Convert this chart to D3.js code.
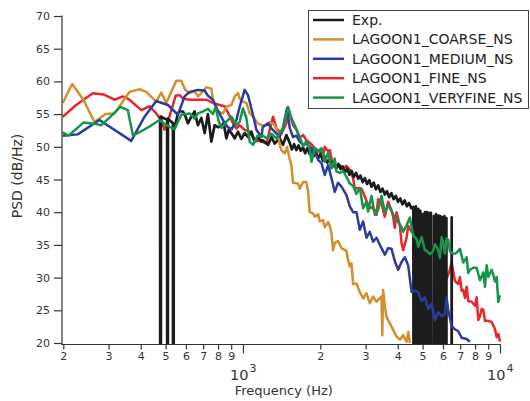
<!DOCTYPE html>
<html><head><meta charset="utf-8">
<script src="https://cdn.jsdelivr.net/npm/d3@7"></script>
<style>
body{margin:0;background:#fff;}
svg{display:block;font-family:"DejaVu Sans",sans-serif;}
</style></head><body>
<svg id="chart" width="530" height="401"></svg>
<script>
// ---------- DATA (frequency Hz, PSD dB/Hz) ----------
const seriesNames = ["Exp.", "LAGOON1_COARSE_NS", "LAGOON1_MEDIUM_NS", "LAGOON1_FINE_NS", "LAGOON1_VERYFINE_NS"];
const seriesColors = ["#1c1c1c", "#d38f2e", "#2c3c9c", "#e8262b", "#13964a"];

// Exp. (-200 = empty bin, drawn as a drop below the axis)
const expData = [[475,54.6],[476.2,54.6],[477.9,-200],[479.6,54.6],[497.5,54.3],[507,54.2],[508.8,-200],[510.6,54.3],[527.5,53.8],[534.1,53.6],[536,-200],[537.9,53.5],[544.2,53.2],[558.3,55.1],[566.8,55.4],[583.9,55.4],[598.1,54.6],[610.6,53.6],[629.5,54.6],[648.4,55.4],[667.9,53.3],[688.9,54.4],[709.5,52.1],[730.8,55.0],[753.4,50.8],[776.1,53.3],[799.4,53.0],[824.1,53.2],[841.2,53.6],[861.8,51.3],[880.4,52.6],[901.5,52.1],[928.5,51.3],[956.4,52.3],[985.8,51.2],[1015,52.1],[1046,51.5],[1078,52.3],[1111,50.8],[1140,51.5],[1180,50.8],[1194,51.0],[1252,50.3],[1291,51.5],[1329,50.5],[1390,51.3],[1432,50.3],[1476,51.8],[1520,50.6],[1550,49.6],[1581,50.4],[1613,49.5],[1645,50.2],[1678,49.4],[1712,49.9],[1746,49.0],[1781,49.8],[1817,48.9],[1853,49.5],[1890,48.6],[1928,49.1],[1967,48.3],[2006,48.9],[2046,47.9],[2087,48.5],[2129,47.6],[2172,48.0],[2215,47.2],[2259,47.8],[2304,46.8],[2350,47.4],[2397,46.6],[2445,47.0],[2494,46.1],[2544,46.7],[2595,45.7],[2647,46.3],[2700,45.4],[2754,46.0],[2809,45.1],[2865,45.6],[2922,44.6],[2981,45.2],[3040,44.3],[3101,44.9],[3163,43.9],[3226,44.5],[3291,43.5],[3357,44.1],[3424,43.1],[3492,43.6],[3562,42.7],[3633,43.2],[3706,42.3],[3780,42.9],[3856,42.0],[3933,42.5],[4011,41.6],[4092,42.1],[4173,41.2],[4257,41.8],[4342,40.9],[4429,41.4],[4518,40.6],[4602,40.8],[4652,-200],[4707,40.9],[4770,-200],[4814,40.5],[4857,-200],[4901,40.2],[4945,-200],[5012,39.7],[5057,-200],[5103,40.0],[5149,-200],[5195,40.0],[5242,-200],[5289,39.9],[5337,-200],[5385,39.9],[5434,-200],[5532,39.4],[5582,-200],[5632,39.7],[5683,-200],[5760,39.5],[5812,-200],[5863,39.4],[5906,-200],[5970,39.2],[6023,-200],[6078,39.4],[6121,-200],[6187,39.1],[6232,-200],[6429,-200],[6487,39.2],[6545,-200]];

const coarseData = [[199,56.7],[216.5,59.6],[239.5,57.2],[264.4,53.8],[291.8,55.0],[316.4,55.1],[361.9,58.4],[395.9,58.8],[420.4,58.4],[459.9,56.9],[480.9,58.3],[502.9,56.7],[550.3,60.1],[575.5,60.1],[596.5,58.7],[620,58.2],[648.4,58.5],[667.9,57.7],[688.9,58.2],[720.4,59.1],[753.4,58.9],[764.3,57.2],[799.4,55.4],[836,55.1],[861.8,56.1],[901.5,56.4],[928.5,57.7],[956.4,58.2],[970.8,57.4],[1000,56.9],[1031,56.7],[1062,55.1],[1094,54.6],[1140,53.6],[1180,53.3],[1234,53.3],[1271,53.8],[1329,53.3],[1369,52.1],[1390,50.3],[1411,49.5],[1454,49.0],[1484,50.0],[1511,48.5],[1543,47.2],[1566,44.5],[1637,44.4],[1663,43.6],[1713,44.6],[1766,44.6],[1792,43.1],[1819,40.0],[1874,39.8],[1902,39.3],[1960,39.7],[1990,38.6],[2050,38.8],[2081,37.7],[2144,38.5],[2176,37.9],[2210,36.8],[2241,34.2],[2276,35.3],[2344,35.6],[2417,34.5],[2527,34.1],[2564,32.7],[2604,31.7],[2644,32.2],[2682,29.0],[2765,29.1],[2848,27.8],[2934,26.8],[3024,27.6],[3115,26.1],[3209,27.1],[3308,26.3],[3407,26.9],[3459,27.1],[3484,21.2],[3510,28.1],[3563,25.6],[3618,24.0],[3727,23.0],[3839,22.0],[3958,21.0],[4077,20.5],[4200,21.2],[4329,20.2],[4400,21.7],[4460,20.0]];

const mediumData = [[199,51.7],[227.6,51.9],[276.5,54.1],[367.5,50.9],[414.1,54.6],[459.9,57.0],[510.2,56.4],[558.3,54.9],[592.8,57.7],[620,58.4],[667.9,58.7],[709.5,58.6],[730.8,57.8],[764.3,57.2],[797.1,55.6],[836,54.1],[871.9,53.0],[903.9,52.7],[942.8,54.1],[970.8,56.1],[1015,58.7],[1046,57.9],[1094,54.9],[1128,52.6],[1180,51.5],[1194,53.0],[1252,53.6],[1291,52.8],[1329,52.3],[1390,51.5],[1432,53.0],[1484,55.9],[1520,52.9],[1566,51.5],[1614,51.7],[1663,50.8],[1713,50.3],[1766,50.5],[1847,49.8],[1902,49.3],[1960,48.0],[2021,47.5],[2081,45.7],[2144,47.2],[2210,45.2],[2276,43.1],[2344,44.5],[2417,43.9],[2527,42.6],[2604,40.9],[2682,40.0],[2765,40.0],[2848,37.3],[2934,38.6],[3024,36.1],[3115,37.0],[3209,35.5],[3308,36.1],[3459,34.5],[3563,33.5],[3670,34.5],[3784,34.4],[3898,32.5],[4015,31.2],[4140,32.4],[4264,33.1],[4392,31.9],[4529,27.8],[4665,28.0],[4805,27.8],[4954,26.4],[5103,27.0],[5256,25.2],[5419,26.0],[5582,23.5],[5750,24.7],[5927,24.1],[6105,24.4],[6198,26.9],[6288,25.1],[6483,22.6],[6678,22.1],[6879,21.8],[7093,20.8],[7418,20.6],[7640,20.2]];

const fineData = [[199,54.6],[224.4,56.4],[260.4,58.2],[286.6,58.0],[316.4,57.2],[340.9,57.7],[361.9,57.2],[402,55.6],[433.1,56.2],[459.9,55.1],[480.9,54.1],[495.3,52.6],[510.2,53.8],[546.9,57.8],[566.8,57.9],[583.9,57.4],[620,57.2],[667.9,57.2],[720.4,57.2],[764.3,56.7],[811.6,56.4],[848.9,56.2],[887.8,54.7],[914.5,53.6],[942.8,52.8],[970.8,53.3],[1015,52.6],[1062,52.3],[1111,50.9],[1162,50.9],[1234,50.5],[1271,52.6],[1309,54.6],[1350,52.8],[1411,52.0],[1476,53.6],[1497,56.1],[1566,53.3],[1614,52.6],[1663,51.4],[1713,51.8],[1766,51.0],[1847,50.4],[1902,49.8],[1990,49.2],[2050,48.5],[2081,50.0],[2144,49.3],[2176,49.5],[2241,47.1],[2311,46.7],[2380,47.2],[2452,46.7],[2527,47.1],[2604,46.5],[2682,45.2],[2724,43.6],[2805,43.7],[2892,43.6],[2979,42.4],[3068,41.1],[3115,40.6],[3163,40.8],[3258,40.3],[3308,39.6],[3356,42.0],[3459,41.3],[3563,39.3],[3670,41.6],[3784,40.3],[3839,39.3],[3898,37.6],[3958,40.0],[4077,38.0],[4140,35.3],[4200,34.2],[4329,36.1],[4392,37.9],[4529,37.0],[4665,37.6],[4736,36.2],[4879,38.0],[5103,36.5],[5337,34.2],[5582,35.0],[5837,32.4],[6013,32.4],[6198,29.8],[6385,31.2],[6483,32.4],[6678,29.5],[6879,29.0],[6985,30.1],[7093,28.0],[7195,28.1],[7306,26.9],[7418,28.6],[7525,26.4],[7758,26.3],[7991,25.7],[8113,27.0],[8231,23.5],[8357,24.1],[8486,25.2],[8609,25.1],[8741,23.4],[9003,23.4],[9283,23.2],[9562,22.1],[9708,20.9],[9849,21.4],[10000,20.2]];

const veryfineData = [[199,52.2],[209.4,51.7],[239.5,53.7],[268,53.5],[280.8,53.3],[299.8,54.3],[333.3,56.1],[356.5,55.6],[372.8,51.8],[389.9,52.1],[433.1,53.1],[473.6,54.1],[502.9,53.3],[542,52.7],[575.5,54.9],[620,55.1],[648.4,54.3],[667.9,55.1],[698.8,55.4],[730.8,55.8],[764.3,55.0],[783,56.1],[804.4,53.9],[824.1,52.9],[861.8,53.8],[901.5,54.6],[942.8,53.3],[970.8,53.8],[1000,55.9],[1031,54.4],[1062,50.8],[1094,50.3],[1140,51.7],[1197,51.7],[1234,51.3],[1291,52.0],[1350,51.3],[1390,52.1],[1432,52.8],[1497,56.0],[1543,54.4],[1590,53.3],[1663,51.5],[1713,50.1],[1766,50.9],[1819,49.7],[1847,47.7],[1902,49.8],[1960,49.3],[2021,49.8],[2081,47.7],[2144,49.1],[2210,46.7],[2276,48.2],[2311,46.2],[2380,46.0],[2452,46.3],[2527,45.4],[2604,44.4],[2682,44.0],[2765,42.8],[2848,43.7],[2934,40.6],[3024,41.6],[3068,40.1],[3163,42.5],[3258,39.6],[3356,40.3],[3459,42.5],[3563,40.0],[3670,41.0],[3784,40.2],[3898,39.1],[4015,38.5],[4140,37.7],[4200,37.0],[4329,38.0],[4460,39.2],[4594,36.4],[4736,35.9],[4805,34.7],[4954,36.2],[5103,34.2],[5181,34.1],[5337,33.6],[5498,34.1],[5582,35.1],[5750,34.2],[5837,33.0],[5927,36.2],[6013,35.4],[6105,33.7],[6198,36.0],[6288,35.8],[6385,34.0],[6577,33.6],[6780,33.8],[6985,34.4],[7195,32.3],[7418,33.1],[7525,30.7],[7640,31.2],[7870,31.5],[8113,31.5],[8357,29.6],[8609,30.8],[8741,28.6],[8874,31.9],[9003,30.1],[9283,31.2],[9417,30.4],[9562,29.4],[9708,30.1],[9849,26.3],[10000,27.3]];

const yTicks = [20, 25, 30, 35, 40, 45, 50, 55, 60, 65, 70];
const xMinorTicks = [200, 300, 400, 500, 600, 700, 800, 900, 2000, 3000, 4000, 5000, 6000, 7000, 8000, 9000];
const xMinorLabels = ["2", "3", "4", "5", "6", "7", "8", "9", "2", "3", "4", "5", "6", "7", "8", "9"];
const xMajorTicks = [1000, 10000];
const xMajorBase = ["10", "10"];
const xMajorExp = ["3", "4"];
const xTitle = "Frequency (Hz)";
const yTitle = "PSD (dB/Hz)";

// ---------- CHART ----------
const svg = d3.select("#chart");
const x = d3.scaleLog().domain([200, 10000]).range([63.3, 500]);
const y = d3.scaleLinear().domain([20, 70]).range([343, 16]);
const axisColor = "#333";

svg.append("defs").append("clipPath").attr("id", "plotclip")
  .append("rect").attr("x", 62).attr("y", 14).attr("width", 440).attr("height", 330);

const line = d3.line().x(d => x(d[0])).y(d => y(d[1]));
const allData = [expData, coarseData, mediumData, fineData, veryfineData];
const drawOrder = [3, 0, 1, 2, 4];
const widths = [2.7, 2.5, 2.5, 2.5, 2.5];
const plot = svg.append("g").attr("clip-path", "url(#plotclip)");
drawOrder.forEach(i => {
  plot.append("path").datum(allData[i])
    .attr("fill", "none").attr("stroke", seriesColors[i])
    .attr("stroke-width", widths[i]).attr("stroke-linejoin", "round")
    .attr("d", line);
});

// y axis
const yAxis = svg.append("g").attr("transform", "translate(62,0)")
  .call(d3.axisLeft(y).tickValues(yTicks).tickSize(8).tickPadding(4).tickSizeOuter(0));
yAxis.select(".domain").remove();
yAxis.selectAll("line").attr("stroke", axisColor).attr("stroke-width", 1.2);
yAxis.selectAll("text").attr("font-size", 11).attr("fill", axisColor).attr("font-family", "DejaVu Sans");

// x axis minor
const xAxisY = 344.5;
const xMinor = svg.append("g").attr("transform", `translate(0,${xAxisY})`)
  .call(d3.axisBottom(x).tickValues(xMinorTicks).tickSize(5).tickPadding(3)
    .tickFormat((d, i) => xMinorLabels[i]).tickSizeOuter(0));
xMinor.select(".domain").remove();
xMinor.selectAll("line").attr("stroke", axisColor).attr("stroke-width", 1.2);
xMinor.selectAll("text").attr("font-size", 11).attr("fill", axisColor).attr("font-family", "DejaVu Sans");

const xMajor = svg.append("g").attr("transform", `translate(0,${xAxisY})`)
  .call(d3.axisBottom(x).tickValues(xMajorTicks).tickSize(9).tickFormat(() => "").tickSizeOuter(0));
xMajor.select(".domain").remove();
xMajor.selectAll("line").attr("stroke", axisColor).attr("stroke-width", 1.2);

xMajorTicks.forEach((t, i) => {
  svg.append("text").attr("x", x(t) - 3.7).attr("y", 379.5).attr("text-anchor", "middle")
    .attr("font-size", 14.5).attr("fill", axisColor).text(xMajorBase[i]);
  svg.append("text").attr("x", x(t) + 6.5).attr("y", 372).attr("text-anchor", "start")
    .attr("font-size", 11).attr("fill", axisColor).text(xMajorExp[i]);
});

// axis lines
svg.append("line").attr("x1", 62).attr("x2", 62).attr("y1", 15.5).attr("y2", xAxisY + 0.6)
  .attr("stroke", axisColor).attr("stroke-width", 1.2);
svg.append("line").attr("x1", 61.4).attr("x2", 500.6).attr("y1", xAxisY).attr("y2", xAxisY)
  .attr("stroke", axisColor).attr("stroke-width", 1.2);

// titles
svg.append("text").attr("x", 283.8).attr("y", 394.5).attr("text-anchor", "middle")
  .attr("font-size", 13).attr("fill", "#333").text(xTitle);
svg.append("text").attr("transform", "translate(21.5,176) rotate(-90)").attr("text-anchor", "middle")
  .attr("font-size", 14).attr("fill", "#333").text(yTitle);

// legend
const leg = svg.append("g");
leg.append("rect").attr("x", 308.5).attr("y", 10.5).attr("width", 220).attr("height", 98)
  .attr("fill", "#fff").attr("stroke", "#444").attr("stroke-width", 1);
seriesNames.forEach((name, i) => {
  const cy = 20 + i * 19.4;
  leg.append("line").attr("x1", 313).attr("x2", 344).attr("y1", cy).attr("y2", cy)
    .attr("stroke", seriesColors[i]).attr("stroke-width", 2.5);
  leg.append("text").attr("x", 352).attr("y", cy + 5).attr("font-size", 14)
    .attr("fill", "#222").text(name);
});
</script>
</body></html>
